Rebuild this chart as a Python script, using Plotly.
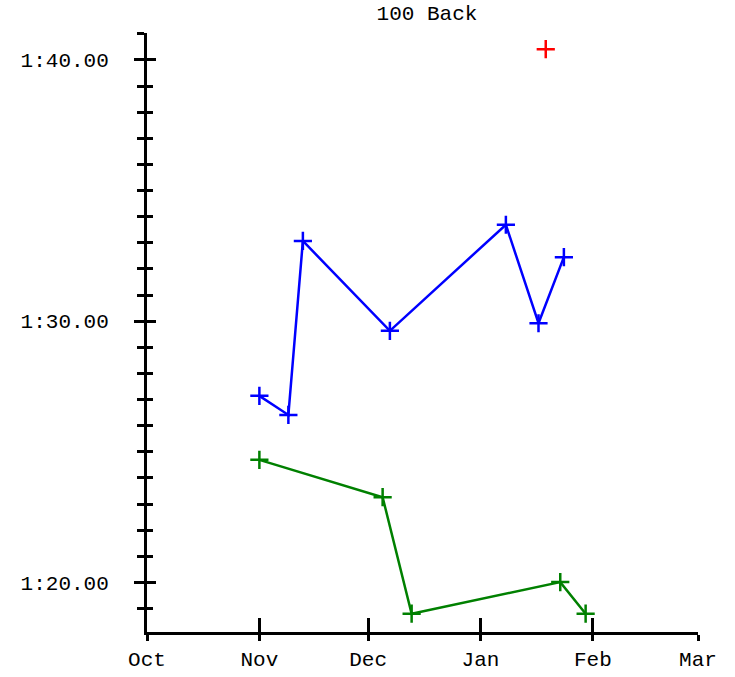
import plotly.graph_objects as go

# Data (times in seconds)
blue_dates = ["2023-11-01", "2023-11-09", "2023-11-13", "2023-12-07",
              "2024-01-08", "2024-01-17", "2024-01-24"]
blue_times = [87.14, 86.41, 93.07, 89.63, 93.69, 89.92, 92.45]

green_dates = ["2023-11-01", "2023-12-05", "2023-12-13", "2024-01-23", "2024-01-30"]
green_times = [84.69, 83.26, 78.80, 80.01, 78.80]

red_dates = ["2024-01-19"]
red_times = [100.41]

y_tickvals = [80, 90, 100]
y_ticktext = ["1:20.00", "1:30.00", "1:40.00"]
x_tickvals = ["2023-10-01", "2023-11-01", "2023-12-01", "2024-01-01", "2024-02-01", "2024-03-01"]
x_ticktext = ["Oct", "Nov", "Dec", "Jan", "Feb", "Mar"]

x_range = ["2023-10-01", "2024-03-01"]
y_range = [78.1, 101.03]

FONT = "Liberation Mono, Courier New, monospace"


def mk(color):
    return dict(color=color, symbol="cross-thin", size=13, line=dict(width=2.5, color=color))


fig = go.Figure()
fig.add_trace(go.Scatter(x=blue_dates, y=blue_times, mode="lines+markers",
                         line=dict(color="#0000ff", width=2.5),
                         marker=mk("#0000ff"), showlegend=False))
fig.add_trace(go.Scatter(x=green_dates, y=green_times, mode="lines+markers",
                         line=dict(color="#008000", width=2.5),
                         marker=mk("#008000"), showlegend=False))
fig.add_trace(go.Scatter(x=red_dates, y=red_times, mode="markers",
                         marker=mk("#ff0000"), showlegend=False,
                         xaxis="x2", yaxis="y2"))

fig.update_layout(
    width=735, height=677,
    margin=dict(l=147, r=37, t=33, b=45),
    paper_bgcolor="white", plot_bgcolor="white",
    font=dict(family=FONT, size=21, color="black"),
    title=dict(text="100 Back", x=0.581, xanchor="center", y=0.982, yanchor="middle",
               font=dict(family=FONT, size=21, color="black")),
    xaxis=dict(range=x_range, type="date", tickvals=x_tickvals, ticktext=x_ticktext,
               automargin=False,
               showgrid=False, zeroline=False, showline=True, linecolor="black", linewidth=3,
               ticks="outside", ticklen=6, tickwidth=3, tickcolor="black", ticklabelstandoff=0),
    yaxis=dict(range=y_range, tickvals=y_tickvals, ticktext=y_ticktext,
               automargin=False,
               showgrid=False, zeroline=False, showline=True, linecolor="black", linewidth=3,
               ticks="outside", ticklen=10, tickwidth=3, tickcolor="black", ticklabelstandoff=21,
               minor=dict(dtick=1, tick0=80, ticks="outside", ticklen=7, tickwidth=3,
                          tickcolor="black", showgrid=False)),
    xaxis2=dict(range=x_range, type="date", overlaying="x", tickvals=x_tickvals,
                automargin=False,
                showticklabels=False, showgrid=False, zeroline=False, showline=False,
                ticks="inside", ticklen=14, tickwidth=3, tickcolor="black"),
    yaxis2=dict(range=y_range, overlaying="y", tickvals=y_tickvals,
                automargin=False,
                showticklabels=False, showgrid=False, zeroline=False, showline=False,
                ticks="inside", ticklen=9, tickwidth=3, tickcolor="black",
                minor=dict(dtick=1, tick0=80, ticks="inside", ticklen=6, tickwidth=3,
                           tickcolor="black", showgrid=False)),
)

fig.write_html("out.html", config={"displayModeBar": False},
               post_script="document.body.style.margin='0';")
